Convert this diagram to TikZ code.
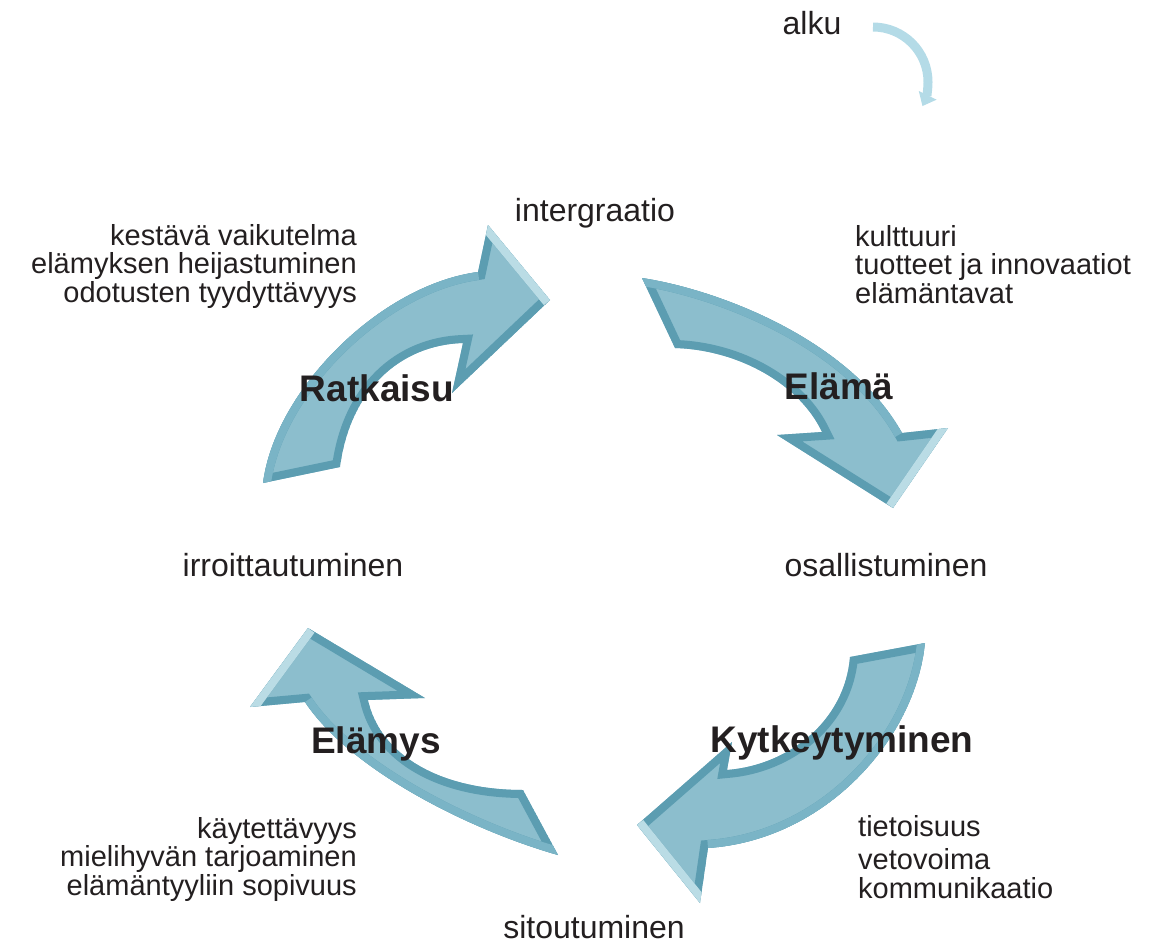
\documentclass[tikz,border=0pt]{standalone}
\usepackage{fontspec}
\setmainfont{Liberation Sans}
\usetikzlibrary{arrows.meta}
\definecolor{facecol}{RGB}{140,190,205}
\definecolor{rimcol}{RGB}{92,157,177}
\definecolor{midcol}{RGB}{122,180,198}
\definecolor{litcol}{RGB}{186,220,229}
\definecolor{startcol}{RGB}{180,219,231}
\definecolor{inkcol}{RGB}{35,31,32}

\begin{document}
\begin{tikzpicture}[
    x=1pt, y=-1pt,
    lbl/.style={font=\fontsize{32}{34}\selectfont, text=inkcol, inner sep=0, anchor=base},
    ttl/.style={font=\fontsize{37}{40}\selectfont\bfseries, text=inkcol, inner sep=0, anchor=base},
    lst/.style={font=\fontsize{29}{28.5}\selectfont, text=inkcol, inner sep=0},
    face/.style={fill=facecol},
    rim/.style={draw=rimcol, line width=16},
    midrim/.style={draw=midcol, line width=16},
    litrim/.style={draw=litcol, line width=16},
    startarc/.style={draw=startcol, line width=9, -{Triangle[length=12pt, width=19pt]}}
    ]
    \useasboundingbox (0,0) rectangle (1164,944);

    % Ratkaisu arrow (lower left -> top)
    \coordinate (ra-to) at (263,483);
    \coordinate (ra-oj) at (478,272);
    \coordinate (ra-ob) at (488,225);
    \coordinate (ra-tip) at (550,300);
    \coordinate (ra-ib) at (452,393);
    \coordinate (ra-in) at (463,343);
    \coordinate (ra-ti) at (340,467);
    \def\ratkaisupath{(ra-to) .. controls (275,390) and (380,285) .. (ra-oj) -- (ra-ob) -- (ra-tip) -- (ra-ib) -- (ra-in) .. controls (400,345) and (350,390) .. (ra-ti) -- cycle}
    \begin{scope}
      \clip \ratkaisupath;
      \fill[face] \ratkaisupath;
      \draw[rim] \ratkaisupath;
      \draw[midrim] (ra-to) .. controls (275,390) and (380,285) .. (ra-oj);
      \draw[litrim] (ra-ob) -- (ra-tip);
    \end{scope}

    % Elama arrow (top -> right)
    \coordinate (el-to) at (642,278);
    \coordinate (el-oj) at (902,433);
    \coordinate (el-ob) at (948,428);
    \coordinate (el-tip) at (893,508);
    \coordinate (el-ib) at (777,435);
    \coordinate (el-in) at (822,432);
    \coordinate (el-ti) at (675,348);
    \def\elamapath{(el-to) .. controls (720,290) and (850,340) .. (el-oj) -- (el-ob) -- (el-tip) -- (el-ib) -- (el-in) .. controls (800,385) and (740,350) .. (el-ti) -- cycle}
    \begin{scope}
      \clip \elamapath;
      \fill[face] \elamapath;
      \draw[rim] \elamapath;
      \draw[midrim] (el-to) .. controls (720,290) and (850,340) .. (el-oj);
      \draw[litrim] (el-ob) -- (el-tip);
    \end{scope}

    % Kytkeytyminen arrow (right -> bottom)
    \coordinate (ky-to) at (925,643);
    \coordinate (ky-oj) at (708,848);
    \coordinate (ky-ob) at (700,903);
    \coordinate (ky-tip) at (637,825);
    \coordinate (ky-ib) at (732,742);
    \coordinate (ky-in) at (727,770);
    \coordinate (ky-ti) at (850,657);
    \def\kytkpath{(ky-to) .. controls (915,740) and (825,840) .. (ky-oj) -- (ky-ob) -- (ky-tip) -- (ky-ib) -- (ky-in) .. controls (790,765) and (845,720) .. (ky-ti) -- cycle}
    \begin{scope}
      \clip \kytkpath;
      \fill[face] \kytkpath;
      \draw[rim] \kytkpath;
      \draw[midrim] (ky-to) .. controls (915,740) and (825,840) .. (ky-oj);
      \draw[litrim] (ky-ob) -- (ky-tip);
    \end{scope}

    % Elamys arrow (bottom -> left)
    \coordinate (ey-to) at (558,855);
    \coordinate (ey-oj) at (305,702);
    \coordinate (ey-ob) at (250,707);
    \coordinate (ey-tip) at (308,628);
    \coordinate (ey-ib) at (425,698);
    \coordinate (ey-in) at (368,700);
    \coordinate (ey-ti) at (523,790);
    \def\elamyspath{(ey-to) .. controls (470,830) and (350,770) .. (ey-oj) -- (ey-ob) -- (ey-tip) -- (ey-ib) -- (ey-in) .. controls (380,755) and (440,790) .. (ey-ti) -- cycle}
    \begin{scope}
      \clip \elamyspath;
      \fill[face] \elamyspath;
      \draw[rim] \elamyspath;
      \draw[midrim] (ey-to) .. controls (470,830) and (350,770) .. (ey-oj);
      \draw[litrim] (ey-ob) -- (ey-tip);
    \end{scope}

    % start marker
    \coordinate (alkustart) at (873,27);
    \draw[startarc] (alkustart) arc[start angle=270, end angle=386, radius=55];

    % labels
    \node[lbl] (alku) at (812,35) {alku};
    \node[lbl] (integ) at (595,222) {intergraatio};
    \node[lbl] (irroit) at (293,576) {irroittautuminen};
    \node[lbl] (osall) at (886,576) {osallistuminen};
    \node[lbl] (sitout) at (594,938) {sitoutuminen};

    \node[ttl] (ratkaisu) at (377,401) {Ratkaisu};
    \node[ttl] (elama) at (839,399) {Elämä};
    \node[ttl] (kytk) at (842,752) {Kytkeytyminen};
    \node[ttl] (elamys) at (376,753) {Elämys};

    \node[lst, anchor=north east, align=right] (ratklist) at (357,224) {kestävä vaikutelma\\elämyksen heijastuminen\\odotusten tyydyttävyys};
    \node[lst, anchor=north west, align=left] (elamalist) at (855,225) {kulttuuri\\tuotteet ja innovaatiot\\elämäntavat};
    \node[lst, anchor=north east, align=right] (elamyslist) at (357,817) {käytettävyys\\mielihyvän tarjoaminen\\elämäntyyliin sopivuus};
    \node[lst, anchor=north west, align=left] (kytklist) at (858,815) {tietoisuus\\[5pt]vetovoima\\kommunikaatio};
\end{tikzpicture}
\end{document}
